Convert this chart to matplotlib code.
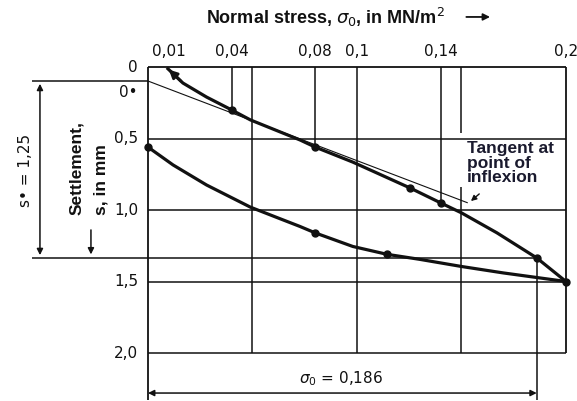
import matplotlib.pyplot as plt

# loading curve: normal stress (MN/m2) vs settlement (mm)
load_stress = [0.009, 0.0167, 0.028, 0.04, 0.049, 0.0727, 0.08, 0.098, 0.1254, 0.14, 0.15, 0.167, 0.186, 0.2]
load_settle = [0.005, 0.112, 0.21, 0.30, 0.37, 0.51, 0.56, 0.665, 0.846, 0.95, 1.02, 1.16, 1.335, 1.50]
load_marked = [3, 6, 8, 9, 12, 13]

# unloading curve
unload_stress = [0.0, 0.012, 0.028, 0.049, 0.063, 0.0727, 0.08, 0.098, 0.1144, 0.13, 0.15, 0.17, 0.186, 0.2]
unload_settle = [0.56, 0.685, 0.825, 0.98, 1.06, 1.115, 1.16, 1.255, 1.31, 1.345, 1.395, 1.44, 1.472, 1.50]
unload_marked = [0, 6, 8]

# tangent at the point of inflexion
tangent_stress = [0.0, 0.153]
tangent_settle = [0.098, 0.95]

top_ticks = [0.01, 0.04, 0.08, 0.1, 0.14, 0.2]
top_labels = ["0,01", "0,04", "0,08", "0,1", "0,14", "0,2"]
left_ticks = [0.0, 0.5, 1.0, 1.5, 2.0]
left_labels = ["0", "0,5", "1,0", "1,5", "2,0"]
grid_stress = [0.05, 0.1]
grid_settle = [0.5, 1.0, 1.5, 2.0]

s_zero_star = 0.098
s_star_end = 1.335
sigma_0 = 0.186

ink = "#111111"
fig = plt.figure(figsize=(5.77, 4.01), dpi=100)
ax = fig.add_axes([0.2565, 0.1197, 0.7244, 0.7132])
ax.set_xlim(0, 0.2)
ax.set_ylim(2.0, 0)
ax.axis("off")

def line(xs, ys, lw=1.1, **kw):
    ax.plot(xs, ys, color=ink, lw=lw, clip_on=False, solid_capstyle="butt",
            solid_joinstyle="round", **kw)

# frame and grid
line([0, 0.2], [0, 0], lw=1.3)
line([0, 0], [0, 2.33], lw=1.3)
line([0.2, 0.2], [0, 2.0], lw=1.3)
for s in grid_settle:
    line([0, 0.2], [s, s])
for x in grid_stress:
    line([x, x], [0, 2.0])
line([0.15, 0.15], [0, 0.46])
line([0.15, 0.15], [0.84, 2.0])

# drop lines from the top axis to the measured points
for i in [3, 6, 9]:
    line([load_stress[i], load_stress[i]], [0, load_settle[i]])

# curves
line(load_stress, load_settle, lw=2.3, zorder=4)
line(unload_stress, unload_settle, lw=2.3, zorder=4)
ax.plot([load_stress[i] for i in load_marked], [load_settle[i] for i in load_marked],
        "o", color=ink, ms=5, clip_on=False, zorder=5)
ax.plot([unload_stress[i] for i in unload_marked], [unload_settle[i] for i in unload_marked],
        "o", color=ink, ms=5, clip_on=False, zorder=5)
ax.annotate("", xy=(load_stress[0], load_settle[0]), xytext=(load_stress[1], load_settle[1]),
            arrowprops=dict(arrowstyle="-|>", color=ink, lw=2.0, mutation_scale=12),
            annotation_clip=False, zorder=5)
line(tangent_stress, tangent_settle, lw=0.8)

# dimension lines
line([-0.0555, 0], [s_zero_star, s_zero_star])
line([-0.0555, sigma_0], [s_star_end, s_star_end])
line([sigma_0, sigma_0], [s_star_end, 2.33])
ax.annotate("", xy=(-0.0517, s_zero_star), xytext=(-0.0517, s_star_end),
            arrowprops=dict(arrowstyle="<|-|>", color=ink, lw=1.1, mutation_scale=9),
            annotation_clip=False)
ax.annotate("", xy=(0, 2.28), xytext=(sigma_0, 2.28),
            arrowprops=dict(arrowstyle="<|-|>", color=ink, lw=1.1, mutation_scale=9,
                            shrinkA=0, shrinkB=0),
            annotation_clip=False)
ax.annotate("", xy=(-0.0273, 1.33), xytext=(-0.0273, 1.12),
            arrowprops=dict(arrowstyle="-|>", color=ink, lw=1.1, mutation_scale=9),
            annotation_clip=False)

# tick labels
for x, lab in zip(top_ticks, top_labels):
    ax.text(x, -0.105, lab, ha="center", va="center", fontsize=11, color=ink)
for s, lab in zip(left_ticks, left_labels):
    ax.text(-0.0048, s, lab, ha="right", va="center", fontsize=11, color=ink)
ax.text(-0.0048, 0.175, "0\u2022", ha="right", va="center", fontsize=11, color=ink)

# titles and notes
ax.text(0.085, -0.35, r"Normal stress, $\sigma_0$, in MN/m$^2$", ha="center", va="center",
        fontsize=13, fontweight="bold", family="Liberation Sans", color=ink)
ax.annotate("", xy=(0.165, -0.35), xytext=(0.151, -0.35),
            arrowprops=dict(arrowstyle="-|>", color=ink, lw=1.3, mutation_scale=10),
            annotation_clip=False)
ax.text(-0.034, 1.035, "Settlement,", rotation=90, rotation_mode="anchor", ha="left",
        va="center", fontsize=12.5, fontweight="bold", family="Liberation Sans", color=ink)
ax.text(-0.0225, 1.035, "s, in mm", rotation=90, rotation_mode="anchor", ha="left",
        va="center", fontsize=12.5, fontweight="bold", family="Liberation Sans", color=ink)
ax.text(-0.0584, 0.72, "s\u2022 = 1,25", rotation=90, ha="center", va="center",
        fontsize=11, color=ink)
ax.text(0.0923, 2.18, r"$\sigma_0$ = 0,186", ha="center", va="center", fontsize=11, color=ink)
ax.text(0.1525, 0.52, "Tangent at\npoint of\ninflexion", ha="left", va="top", fontsize=12.5,
        fontweight="bold", family="Liberation Sans", color="#1a1a2e", linespacing=0.95)
ax.annotate("", xy=(0.1535, 0.95), xytext=(0.1595, 0.875),
            arrowprops=dict(arrowstyle="-|>", color=ink, lw=1.0, mutation_scale=8),
            annotation_clip=False)

fig.savefig("out.png", dpi=100)
